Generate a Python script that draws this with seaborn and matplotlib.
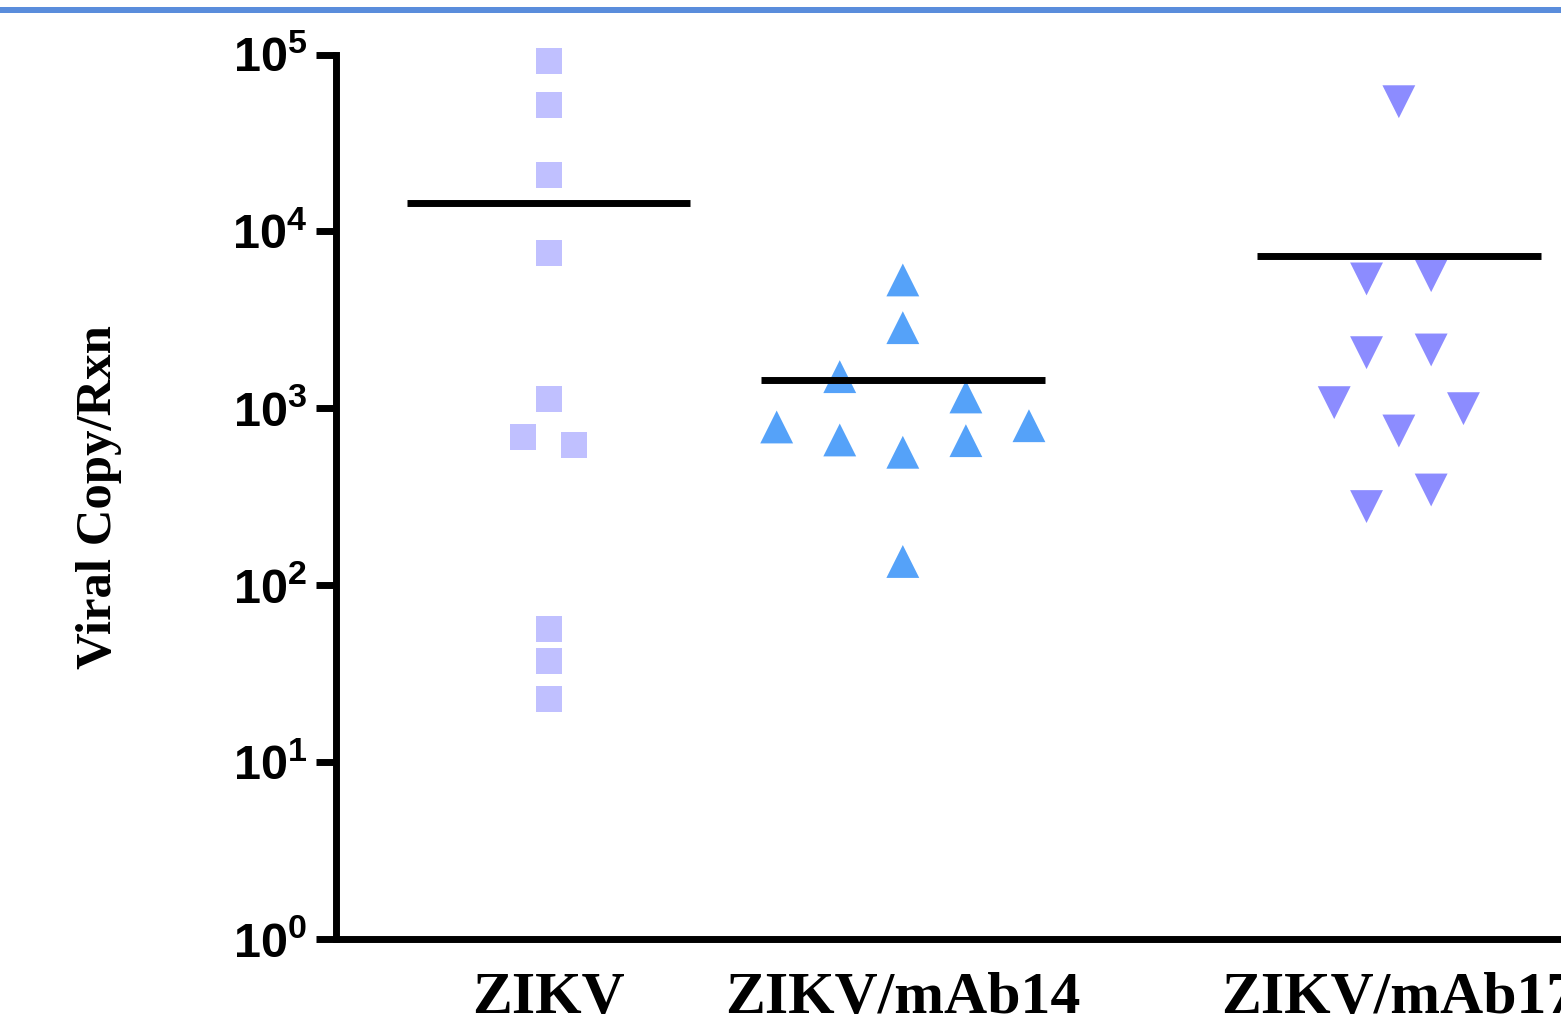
import numpy as np
import pandas as pd
import seaborn as sns
import matplotlib.pyplot as plt
from matplotlib.patches import Rectangle
from matplotlib.ticker import FixedLocator, FuncFormatter, NullLocator

# --- DATOS ---
GRUPOS = ["ZIKV", "ZIKV/mAb14", "ZIKV/mAb17"]
ZIKV = [91900, 51800, 20740, 7510, 1129, 685, 616, 56.3, 37.0, 22.8]
MAB14 = [5320, 2858, 1510, 1159, 784, 797, 662, 656, 564, 136]
MAB17 = [54200, 5390, 5623, 2063, 2137, 1076, 995, 744, 278, 345]
MEDIAS = [14550, 1440, 7300]
Y_TICKS = [1, 10, 100, 1000, 10000, 100000]

# --- LAYOUT ---
POS_GRUPO = [0.0, 1.0, 2.4]
DESPLAZ = [
    [0, 0, 0, 0, 0, -1, 1, 0, 0, 0],
    [0, 0, -1, 1, -2, 2, -1, 1, 0, 0],
    [0, -1, 1, -1, 1, -2, 2, 0, -1, 1],
]
PASO = [0.0727, 0.178, 0.0912]
MARCADORES = ["s", "^", "v"]
TAMANOS = [350, 560, 560]
COLORES = ["#C0C0FF", "#55A2F9", "#8C8CFF"]

sns.set_theme(style="white")
plt.rcParams['font.family'] = ['Liberation Sans', 'DejaVu Sans']
plt.rcParams['mathtext.fontset'] = 'custom'
plt.rcParams['mathtext.bf'] = 'Liberation Sans:bold'
plt.rcParams['mathtext.rm'] = 'Liberation Sans:bold'
plt.rcParams['text.color'] = 'black'
plt.rcParams['xtick.color'] = 'black'
plt.rcParams['ytick.color'] = 'black'

fig = plt.figure(figsize=(15.61, 10.26), dpi=100)
fig.patch.set_facecolor("white")
ax = fig.add_axes([0.2152, 0.0851, 0.8625, 0.8616])

valores = [ZIKV, MAB14, MAB17]
for i, grupo in enumerate(GRUPOS):
    df = pd.DataFrame({
        "x": POS_GRUPO[i] + np.array(DESPLAZ[i]) * PASO[i],
        "y": valores[i],
    })
    sns.scatterplot(data=df, x="x", y="y", marker=MARCADORES[i], s=TAMANOS[i],
                    color=COLORES[i], edgecolor="none", linewidth=0, ax=ax,
                    zorder=3, clip_on=False)

# linea de la media
for pos, media in zip(POS_GRUPO, MEDIAS):
    ax.hlines(media, pos - 0.4, pos + 0.4, color="black", linewidth=5, zorder=4)

ax.set_yscale("log")
ax.set_ylim(1, 1e5)
ax.set_xlim(-0.6, 3.2)
ax.yaxis.set_major_locator(FixedLocator(Y_TICKS))
ax.yaxis.set_minor_locator(NullLocator())
ax.yaxis.set_major_formatter(FuncFormatter(
    lambda v, p: r"$\mathbf{10^{%d}}$" % round(np.log10(v))))
ax.set_xticks(POS_GRUPO)
ax.set_xticklabels(GRUPOS, family=["Liberation Serif", "DejaVu Serif"],
                   fontweight="bold", fontsize=43, color="black")
ax.tick_params(axis="x", length=0, pad=24, labelcolor="black")
ax.tick_params(axis="y", length=14.5, width=5, pad=6, labelsize=35,
               direction="out", left=True, colors="black")

ax.set_xlabel("")
ax.set_ylabel("Viral Copy/Rxn", family=["Liberation Serif", "DejaVu Serif"],
              fontweight="bold", fontsize=36.5, color="black")
ax.yaxis.set_label_coords(-0.159, 0.5)

sns.despine(ax=ax)
for lado in ["left", "bottom"]:
    ax.spines[lado].set_linewidth(5)
    ax.spines[lado].set_color("black")
ax.set_facecolor("none")

# banda azul superior
fig.patches.append(Rectangle((0, 1 - 13 / 1026), 1, 6 / 1026, transform=fig.transFigure,
                             facecolor="#5A8DDC", edgecolor="none"))

plt.savefig("out.png", dpi=100)
plt.close()
